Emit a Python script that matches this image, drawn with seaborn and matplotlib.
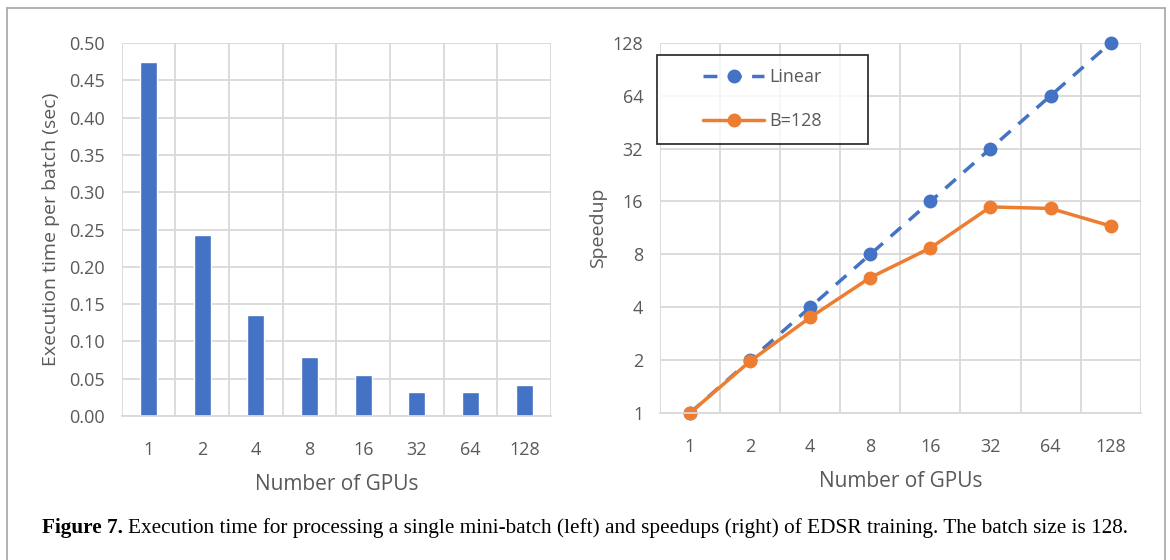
import numpy as np
import pandas as pd
import seaborn as sns
import matplotlib.pyplot as plt
from matplotlib.lines import Line2D
from matplotlib.ticker import FixedLocator, NullLocator, NullFormatter, FuncFormatter

# data
gpus = [1, 2, 4, 8, 16, 32, 64, 128]
gpu_labels = [str(g) for g in gpus]
exec_time = [0.475, 0.243, 0.135, 0.0795, 0.0545, 0.032, 0.0325, 0.041]
linear_speedup = [1, 2, 4, 8, 16, 32, 64, 128]
b128_speedup = [1, 1.97, 3.5, 5.9, 8.7, 14.9, 14.6, 11.6]

sns.set_theme(style="white")
plt.rcParams['font.family'] = ['Open Sans', 'DejaVu Sans']

blue = '#4472C4'
orange = '#ED7D31'
grid_c = '#d9d9d9'
txt = '#595959'

fig = plt.figure(figsize=(11.7, 5.6), dpi=100)
ax1 = fig.add_axes([0.104, 0.257, 0.367, 0.666])
ax2 = fig.add_axes([0.564, 0.2625, 0.411, 0.661])

# left: execution time bars
df1 = pd.DataFrame({'GPUs': gpu_labels, 'Time': exec_time})
sns.barplot(data=df1, x='GPUs', y='Time', color=blue, width=0.32, saturation=1, ax=ax1)
ax1.set_xlim(-0.5, 7.5)
ax1.set_ylim(0, 0.5)
ax1.set_yticks(np.arange(0, 0.501, 0.05))
ax1.yaxis.set_major_formatter(FuncFormatter(lambda v, p: f'{v:.2f}'))
ax1.xaxis.set_minor_locator(FixedLocator(np.arange(-0.5, 8, 1)))
ax1.xaxis.set_minor_formatter(NullFormatter())
ax1.grid(True, which='minor', axis='x', color=grid_c, lw=1.3)
ax1.grid(True, which='major', axis='y', color=grid_c, lw=1.3)
ax1.set_axisbelow(True)
ax1.set_xlabel('Number of GPUs', fontsize=15, color=txt, labelpad=11)
ax1.set_ylabel('Execution time per batch (sec)', fontsize=14, color=txt, labelpad=7)

# right: speedup lines
df2 = pd.DataFrame({
    'GPUs': gpus * 2,
    'Speedup': linear_speedup + b128_speedup,
    'Series': ['Linear'] * len(gpus) + ['B=128'] * len(gpus),
})
sns.lineplot(data=df2, x='GPUs', y='Speedup', hue='Series', style='Series',
             palette=[blue, orange], dashes={'Linear': (4, 3), 'B=128': ''},
             markers={'Linear': 'o', 'B=128': 'o'}, markersize=10,
             markeredgewidth=0, lw=2.5, ax=ax2)
for ln in ax2.lines:
    ln.set_clip_on(False)
ax2.set_xscale('log', base=2)
ax2.set_yscale('log', base=2)
ax2.set_xlim(2 ** -0.5, 2 ** 7.5)
ax2.set_ylim(1, 128)
ax2.set_xticks(gpus)
ax2.set_xticklabels(gpu_labels)
ax2.set_yticks(linear_speedup)
ax2.set_yticklabels([str(v) for v in linear_speedup])
ax2.xaxis.set_minor_locator(FixedLocator([2 ** (k - 0.5) for k in range(9)]))
ax2.xaxis.set_minor_formatter(NullFormatter())
ax2.yaxis.set_minor_locator(NullLocator())
ax2.grid(True, which='minor', axis='x', color=grid_c, lw=1.3)
ax2.grid(True, which='major', axis='y', color=grid_c, lw=1.3)
ax2.grid(False, which='major', axis='x')
ax2.set_axisbelow(True)
ax2.set_xlabel('Number of GPUs', fontsize=15, color=txt, labelpad=11)
ax2.set_ylabel('Speedup', fontsize=14, color=txt, labelpad=4)

handles, labels = ax2.get_legend_handles_labels()
leg = ax2.legend(handles, labels, loc='upper left', bbox_to_anchor=(-0.006, 0.968, 0.439, 0.0),
                 mode='expand', alignment='center', fontsize=13, frameon=True, fancybox=False,
                 edgecolor='black', handlelength=3.4, handletextpad=0.3, borderaxespad=0,
                 labelspacing=1.45, borderpad=0.75)
# keep the entries centred inside the wide box
leg._legend_handle_box.mode = 'fixed'
leg.get_frame().set_linewidth(1.3)
for t in leg.get_texts():
    t.set_color(txt)

for ax in (ax1, ax2):
    for side in ('top', 'right', 'left'):
        ax.spines[side].set_visible(False)
    ax.spines['bottom'].set_color(grid_c)
    ax.spines['bottom'].set_linewidth(1.3)
    ax.tick_params(axis='both', which='both', length=0, labelsize=13, colors=txt, pad=12)
    ax.tick_params(axis='x', pad=18)

# caption
cap_y = 0.057
renderer = fig.canvas.get_renderer()
t1 = fig.text(0.036, cap_y, 'Figure 7.', fontsize=15.3, fontweight='bold',
              family=['Liberation Serif'], va='center', color='black')
bb = t1.get_window_extent(renderer).transformed(fig.transFigure.inverted())
fig.text(bb.x1 + 0.004, cap_y,
         'Execution time for processing a single mini-batch (left) and speedups (right) '
         'of EDSR training. The batch size is 128.',
         fontsize=15.3, family=['Liberation Serif'], va='center', color='black')

# outer frame of the figure panel
frame = dict(color='#a6a6a6', lw=1.2, transform=fig.transFigure)
fig.add_artist(Line2D([0.006, 0.006], [0.0, 0.986], **frame))
fig.add_artist(Line2D([0.006, 0.9957], [0.986, 0.986], **frame))
fig.add_artist(Line2D([0.9957, 0.9957], [0.986, 0.0], **frame))

plt.savefig('out.png', dpi=100, facecolor='w')
